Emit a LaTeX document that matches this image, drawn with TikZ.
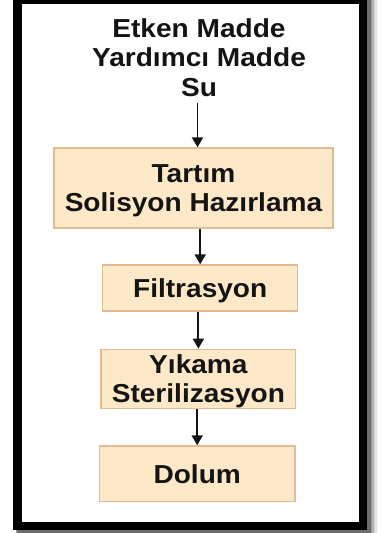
\documentclass[tikz,border=0pt]{standalone}
\usepackage{fontspec}
\setmainfont{Liberation Sans}[FakeStretch=1.08]
\usetikzlibrary{arrows.meta}
\definecolor{boxfill}{HTML}{FDE8C8}
\definecolor{boxline}{HTML}{E3BA94}
\definecolor{txt}{HTML}{141414}
\begin{document}
\begin{tikzpicture}[x=1pt,y=-1pt,
  every node/.style={font=\fontsize{26}{29.5}\selectfont\bfseries, text=txt, align=center, text depth=0pt},
  stepbox/.style={draw=boxline, fill=boxfill, line width=1.4pt, inner sep=0pt},
  arr/.style={line width=1.9pt, draw=txt, -{Triangle[width=11pt,length=10pt]}}]
\useasboundingbox (0,0) rectangle (385,533);
\fill[white] (0,0) rectangle (385,533);
% shadow
\foreach \s/\o in {1/0.25,2/0.18,3/0.13,4/0.09,5/0.06,6/0.04}
  \draw[line width=8.5pt+\s pt, black, opacity=\o] ([shift={(2.5+\s*0.9,2.5+\s*0.3)}]17.25,0) rectangle ([shift={(2.5+\s*0.9,2.5+\s*0.3)}]362.75,525.75);
% frame
\draw[line width=8.5pt, fill=white] (17.25,0) rectangle (362.75,525.75);
% nodes
\node[inner sep=0pt] (src) at (199,57.4) {Etken Madde\\Yardımcı Madde\\Su};
\node[stepbox, minimum width=279pt, minimum height=80pt] (b1) at (193.5,188) {Tartım\\Solisyon Hazırlama};
\node[stepbox, minimum width=195pt, minimum height=46pt] (b2) at (200.2,288) {Filtrasyon};
\node[stepbox, minimum width=194.7pt, minimum height=59pt] (b3) at (198.4,378.8) {Yıkama\\Sterilizasyon};
\node[stepbox, minimum width=195.7pt, minimum height=55.7pt] (b4) at (197.2,473.8) {Dolum};
% arrows
\draw[arr] ([yshift=-6pt]src.south -| 197.5,0) -- (197.5,0 |- b1.north);
\draw[arr] (b1.south -| b2) -- (b2.north);
\draw[arr] (b2.south -| b3) -- (b3.north);
\draw[arr] (b3.south -| b4) -- (b4.north);
\end{tikzpicture}
\end{document}
